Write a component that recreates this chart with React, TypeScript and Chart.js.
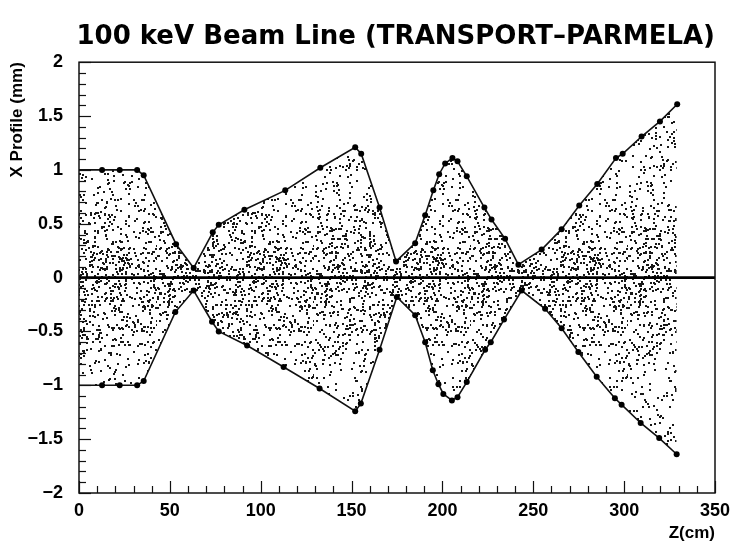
import { useEffect, useRef } from 'react';
import { Chart, registerables } from 'chart.js';

Chart.register(...registerables);

// Beam envelope, upper edge: z (cm) and x (mm)
const upperZ = [0, 12.7, 22.4, 32, 35.6, 53.4, 63.1, 73.6, 76.9, 91, 113.5, 132.8, 152, 155.3, 165.4, 174.5, 185, 190.5, 195, 198.2, 201.5, 205.5, 208.3, 213.4, 223.1, 227, 234.5, 241.8, 254.6, 265.6, 275.3, 285.2, 295.5, 299.2, 309.6, 319.7, 329.2];
const upperX = [1.0, 1.0, 1.0, 1.0, 0.95, 0.31, 0.09, 0.42, 0.49, 0.63, 0.81, 1.02, 1.21, 1.15, 0.65, 0.15, 0.32, 0.58, 0.81, 0.96, 1.06, 1.11, 1.08, 0.94, 0.65, 0.54, 0.36, 0.12, 0.26, 0.45, 0.67, 0.87, 1.11, 1.15, 1.31, 1.45, 1.61];

// Beam envelope, lower edge
const lowerZ = [0, 12.7, 22.4, 32, 35.6, 53, 63.1, 73.2, 76.9, 92.5, 112.6, 132.4, 152, 155.1, 165.4, 174.9, 185, 190.5, 194.7, 197.8, 200.5, 205.2, 208.3, 213.4, 223.5, 226.6, 233.9, 243.6, 256.5, 265.6, 274.8, 284.9, 294.9, 298.6, 309.1, 319.3, 328.9];
const lowerX = [-1.0, -1.0, -1.0, -1.0, -0.96, -0.32, -0.12, -0.41, -0.5, -0.63, -0.83, -1.03, -1.24, -1.17, -0.67, -0.18, -0.35, -0.6, -0.86, -0.99, -1.08, -1.14, -1.11, -0.97, -0.67, -0.6, -0.39, -0.12, -0.29, -0.47, -0.69, -0.92, -1.12, -1.18, -1.35, -1.49, -1.64];

// Beam axis
const axisZ = [0, 350];
const axisX = [0, 0];

const TITLE = '100 keV Beam Line (TRANSPORT\u2013PARMELA)';
const Y_TITLE = 'X Profile (mm)';
const X_TITLE = 'Z(cm)';

const pts = (zs: number[], xs: number[]) => zs.map((z, i) => ({ x: z, y: xs[i] }));

// integer bit-mix, used only to scatter the texture's grain
function grain(n: number): number {
  n = Math.imul(n ^ (n >>> 16), 0x7feb352d);
  n = Math.imul(n ^ (n >>> 15), 0x846ca68b);
  n = n ^ (n >>> 16);
  return (n >>> 0) / 4294967296;
}

// Stippled texture used as the fill style of the particle cloud (denser toward the beam axis)
function makeStipple(axisPx: number, top: number, bottom: number, height: number): CanvasPattern | string {
  const W = 157;
  const tile = document.createElement('canvas');
  tile.width = W;
  tile.height = height;
  const c = tile.getContext('2d');
  if (!c) return 'rgba(0,0,0,0.15)';
  c.fillStyle = '#181818';
  for (let i = 0; i < 1500; i++) {
    const x = Math.floor(grain(i * 3 + 11) * W);
    const y = top + grain(i * 3 + 5000017) * (bottom - top);
    c.fillRect(x, Math.floor(y), 2, 2);
  }
  for (let i = 0; i < 700; i++) {
    const x = Math.floor(grain(i * 5 + 900001) * W);
    const y = axisPx + (grain(i * 7 + 1300007) - grain(i * 11 + 2700013)) * 95;
    c.fillRect(x, Math.floor(y), 2, 2);
  }
  return c.createPattern(tile, 'repeat') || 'rgba(0,0,0,0.15)';
}

const framePlugin = {
  id: 'frame',
  afterDraw(chart: any) {
    const { ctx, chartArea: a, scales } = chart;
    ctx.save();
    ctx.strokeStyle = '#111';
    ctx.lineWidth = 1.5;
    ctx.strokeRect(a.left, a.top, a.right - a.left, a.bottom - a.top);
    ctx.lineWidth = 1.2;
    const ys = scales.y;
    for (let i = -20; i <= 20; i++) {
      const py = Math.round(ys.getPixelForValue(i / 10)) + 0.5;
      const len = i % 5 === 0 ? 12 : 7;
      ctx.beginPath();
      ctx.moveTo(a.left, py);
      ctx.lineTo(a.left + len, py);
      ctx.stroke();
    }
    const xs = scales.x;
    for (let v = 0; v <= 350; v += 10) {
      const px = Math.round(xs.getPixelForValue(v)) + 0.5;
      const len = v % 50 === 0 ? 12 : 7;
      ctx.beginPath();
      ctx.moveTo(px, a.bottom);
      ctx.lineTo(px, a.bottom - len);
      ctx.stroke();
    }
    ctx.restore();
  },
};

export default function App() {
  const ref = useRef<HTMLCanvasElement | null>(null);

  useEffect(() => {
    if (!ref.current) return;
    const tickFont = { family: '"Liberation Sans", Arial, sans-serif', size: 18, weight: 'bold' as const };
    const chart = new Chart(ref.current, {
      type: 'line',
      data: {
        datasets: [
          {
            label: 'upper',
            data: pts(upperZ, upperX),
            borderColor: '#111',
            borderWidth: 1.6,
            pointRadius: upperZ.map((_, i) => (i === 0 ? 0 : 3)),
            pointBackgroundColor: '#000',
            pointBorderWidth: 0,
            backgroundColor: 'rgba(0,0,0,0)',
            fill: 1,
            tension: 0,
          },
          {
            label: 'lower',
            data: pts(lowerZ, lowerX),
            borderColor: '#111',
            borderWidth: 1.6,
            pointRadius: lowerZ.map((_, i) => (i === 0 ? 0 : 3)),
            pointBackgroundColor: '#000',
            pointBorderWidth: 0,
            fill: false,
            tension: 0,
          },
          {
            label: 'axis',
            data: pts(axisZ, axisX),
            borderColor: '#000',
            borderWidth: 2.6,
            pointRadius: 0,
            fill: false,
          },
        ],
      },
      options: {
        responsive: false,
        animation: false,
        devicePixelRatio: 1,
        layout: { padding: { left: 0, right: 16, top: 0, bottom: 0 } },
        plugins: {
          legend: { display: false },
          tooltip: { enabled: false },
          filler: { drawTime: 'beforeDatasetsDraw' },
          title: {
            display: true,
            text: TITLE,
            align: 'end',
            color: '#000',
            font: { family: '"DejaVu Sans", sans-serif', size: 26, weight: 'bold' },
            padding: { top: 22, bottom: 9 },
          },
        },
        scales: {
          x: {
            type: 'linear',
            min: 0,
            max: 350,
            afterFit: (s: any) => { s.height = 51; s.paddingRight = 0; s.paddingLeft = 0; },
            grid: { display: false, drawTicks: false },
            border: { display: false },
            ticks: { stepSize: 50, padding: 7, color: '#000', font: tickFont, maxRotation: 0 },
            title: {
              display: true,
              text: X_TITLE,
              align: 'end',
              color: '#000',
              font: { family: '"Liberation Sans", Arial, sans-serif', size: 17, weight: 'bold' },
              padding: { top: 0, bottom: 0 },
            },
          },
          y: {
            type: 'linear',
            min: -2,
            max: 2,
            afterFit: (s: any) => { s.width = 79; },
            grid: { display: false, drawTicks: false },
            border: { display: false },
            ticks: {
              stepSize: 0.5,
              padding: 16,
              color: '#000',
              font: tickFont,
              callback: (v: any) => String(v).replace('-', '\u2212'),
            },
            title: {
              display: true,
              text: Y_TITLE,
              align: 'end',
              color: '#000',
              font: { family: '"Liberation Sans", Arial, sans-serif', size: 17, weight: 'bold' },
              padding: { top: 7, bottom: 0 },
            },
          },
        },
      },
      plugins: [framePlugin],
    });
    const a = chart.chartArea;
    const axisPx = chart.scales.y.getPixelForValue(0);
    (chart.data.datasets[0] as any).backgroundColor = makeStipple(axisPx, a.top, a.bottom, chart.height);
    chart.update('none');
    return () => chart.destroy();
  }, []);

  return (
    <div style={{ position: 'absolute', left: 0, top: 0, width: 731, height: 544, background: '#fff' }}>
      <canvas ref={ref} width={731} height={544} />
    </div>
  );
}
